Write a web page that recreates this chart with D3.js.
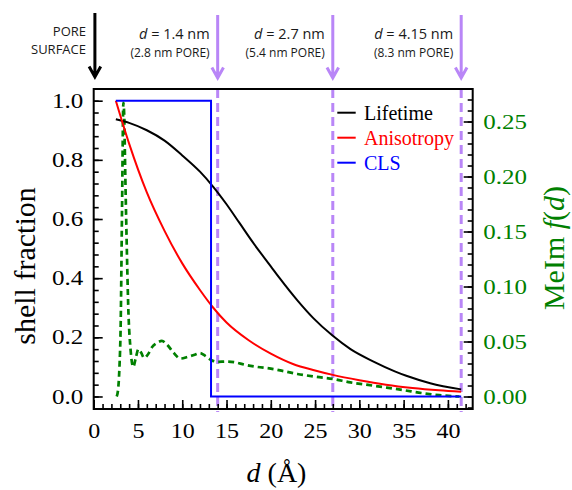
<!DOCTYPE html>
<html><head><meta charset="utf-8">
<script src="https://cdn.jsdelivr.net/npm/d3@7"></script>
<style>body{margin:0;background:#fff} svg{display:block}</style>
</head><body>
<svg id="chart" width="572" height="490"></svg>
<script>
// ---- data ----
const lifetimeD = [2.5,4,6,8,10,12,13.5,15,16.5,18,20,21,23,24.8,27,29,31.6,34,35.3,38,41.5];
const lifetimeV = [0.937,0.925,0.9,0.865,0.815,0.76,0.709,0.65,0.585,0.52,0.44,0.40,0.325,0.265,0.205,0.16,0.118,0.085,0.07,0.045,0.024];

const anisoD = [2.5,4,6,8,10,12,13.5,15,17.5,20,22.5,25,27,30,33,36,39,41.5];
const anisoV = [1.0,0.855,0.69,0.56,0.45,0.36,0.30,0.25,0.19,0.145,0.11,0.088,0.073,0.055,0.04,0.029,0.021,0.016];

const clsD = [2.5,13.25,13.25,41.5];
const clsV = [1,1,0,0];

const meimD = [2.6,2.75,2.9,3.05,3.2,3.35,3.45,3.53,3.72,3.9,4.17,4.47,4.75,5.05,5.35,5.7,6.1,6.6,7.2,7.7,8.3,9.0,9.8,10.6,11.4,12.0,12.6,13.3,14.0,15.0,16.0,17.0,18.4,20,21.5,23,25,27,29,31,33,35,37,39,41.3];
const meimV = [0.0,0.006,0.025,0.067,0.17,0.267,0.255,0.218,0.142,0.082,0.042,0.027,0.035,0.043,0.040,0.035,0.038,0.045,0.049,0.0505,0.047,0.040,0.0345,0.036,0.038,0.0395,0.037,0.033,0.0315,0.0318,0.031,0.029,0.027,0.0253,0.023,0.0205,0.018,0.016,0.0128,0.0105,0.0082,0.0058,0.0032,0.0012,0.0];

const xTicks = [0,5,10,15,20,25,30,35,40];
const yLTicks = [0,0.2,0.4,0.6,0.8,1.0];
const yRTicks = [0,0.05,0.10,0.15,0.20,0.25];

const poreD = [14,27,41.5];
const poreLabels = ["1.4 nm","2.7 nm","4.15 nm"];
const poreSub = ["(2.8 nm PORE)","(5.4 nm PORE)","(8.3 nm PORE)"];

const legendNames = ["Lifetime","Anisotropy","CLS"];
const legendColors = ["#000000","#ff0000","#0000ff"];

// ---- layout ----
const svg = d3.select("#chart");
const L=93.7, R=472.7, T=89, B=409;
const serif = "Liberation Serif, Times New Roman, serif";
const sans = "Open Sans, Noto Sans, sans-serif";
const green = "#008000";
const purple = "#b986f7";

const x = d3.scaleLinear().domain([0,42.8]).range([L,R]);
const yL = d3.scaleLinear().domain([-0.0423,1.0395]).range([B,T]);
const yR = d3.scaleLinear().domain([-0.01136,0.27955]).range([B,T]);

// purple dashed verticals
svg.selectAll("line.pore").data(poreD).join("line")
  .attr("x1",d=>x(d)).attr("x2",d=>x(d)).attr("y1",T).attr("y2",B+3)
  .attr("stroke",purple).attr("stroke-width",3).attr("stroke-dasharray","9,5");

// curves
const lineL = d3.line().x(d=>x(d[0])).y(d=>yL(d[1])).curve(d3.curveMonotoneX);
const lineR = d3.line().x(d=>x(d[0])).y(d=>yR(d[1])).curve(d3.curveMonotoneX);
const lineStep = d3.line().x(d=>x(d[0])).y(d=>yL(d[1]));

svg.append("path").datum(d3.zip(meimD,meimV)).attr("d",lineR)
  .attr("fill","none").attr("stroke",green).attr("stroke-width",2.7).attr("stroke-dasharray","6,4");
svg.append("path").datum(d3.zip(lifetimeD,lifetimeV)).attr("d",lineL)
  .attr("fill","none").attr("stroke","#000").attr("stroke-width",2);
svg.append("path").datum(d3.zip(anisoD,anisoV)).attr("d",lineL)
  .attr("fill","none").attr("stroke","#ff0000").attr("stroke-width",2);
svg.append("path").datum(d3.zip(clsD,clsV)).attr("d",lineStep)
  .attr("fill","none").attr("stroke","#0000ff").attr("stroke-width",2);

// axes
function styleAxis(g){ g.select(".domain").remove(); g.selectAll("line").attr("stroke","#000").attr("stroke-width",1.6); }

svg.append("g").attr("transform",`translate(0,${B})`)
  .call(d3.axisBottom(x).tickValues(d3.range(0,43)).tickSize(-5).tickFormat("")).call(styleAxis);
const gx = svg.append("g").attr("transform",`translate(0,${B})`)
  .call(d3.axisBottom(x).tickValues(xTicks).tickSize(-9).tickFormat(d3.format("d"))).call(styleAxis);
gx.selectAll("text").attr("y",29).attr("dy",null).attr("transform","scale(1.2,1)")
  .attr("font-family",serif).attr("font-size",20).attr("fill","#000");

svg.append("g").attr("transform",`translate(${L},0)`)
  .call(d3.axisLeft(yL).tickValues(d3.range(0,26).map(i=>i*0.04)).tickSize(-5).tickFormat("")).call(styleAxis);
const gyL = svg.append("g").attr("transform",`translate(${L},0)`)
  .call(d3.axisLeft(yL).tickValues(yLTicks).tickSize(-9).tickFormat(d3.format(".1f"))).call(styleAxis);
gyL.selectAll("text").attr("x",-8.3).attr("dy","6.6px").attr("transform","scale(1.25,1)")
  .attr("font-family",serif).attr("font-size",20).attr("fill","#000");

svg.append("g").attr("transform",`translate(${R},0)`)
  .call(d3.axisRight(yR).tickValues(d3.range(-1,28).map(i=>i/100)).tickSize(-5).tickFormat("")).call(styleAxis);
const gyR = svg.append("g").attr("transform",`translate(${R},0)`)
  .call(d3.axisRight(yR).tickValues(yRTicks).tickSize(-9).tickFormat(d3.format(".2f"))).call(styleAxis);
gyR.selectAll("text").attr("x",8.5).attr("dy","6.6px").attr("transform","scale(1.25,1)")
  .attr("font-family",serif).attr("font-size",20).attr("fill",green);

// frame
svg.append("rect").attr("x",L).attr("y",T).attr("width",R-L).attr("height",B-T)
  .attr("fill","none").attr("stroke","#000").attr("stroke-width",2);

// legend
const lg = svg.append("g");
legendNames.forEach((n,i)=>{
  const yy = 112.7 + i*25;
  lg.append("line").attr("x1",337.3).attr("x2",355.7).attr("y1",yy).attr("y2",yy)
    .attr("stroke",legendColors[i]).attr("stroke-width",2);
  lg.append("text").attr("x",364).attr("y",yy+7).text(n)
    .attr("font-family",serif).attr("font-size",20).attr("fill",legendColors[i]);
});

// axis titles
svg.append("text").attr("transform","translate(35,266) rotate(-90)")
  .attr("text-anchor","middle").attr("font-family",serif).attr("font-size",30).attr("fill","#000")
  .text("shell fraction");
const t2 = svg.append("text").attr("transform","translate(563.5,248) rotate(-90)")
  .attr("text-anchor","middle").attr("font-family",serif).attr("font-size",30).attr("fill",green);
[["MeIm ",false],["f",true],["(",false],["d",true],[")",false]].forEach(([s,it])=>{
  t2.append("tspan").attr("font-family",serif).attr("font-style",it?"italic":"normal").text(s);
});
const t3 = svg.append("text").attr("x",276.5).attr("y",482).attr("text-anchor","middle")
  .attr("font-family",serif).attr("font-size",28).attr("fill","#000");
t3.append("tspan").attr("font-family",serif).attr("font-style","italic").text("d");
t3.append("tspan").attr("font-family",serif).text(" (Å)");

// arrows
const arrow = (xx,y1,y2,col)=>{
  svg.append("path").attr("d",`M${xx},${y1}L${xx},${y2}M${xx-5.8},${y2-10.5}L${xx},${y2}L${xx+5.8},${y2-10.5}`)
    .attr("fill","none").attr("stroke",col).attr("stroke-width",3);
};
arrow(x(0)+1.2,13,77,"#000");
poreD.forEach(d=>arrow(x(d),15,78,purple));

// annotations
svg.append("text").attr("x",86).attr("y",36).attr("text-anchor","end")
  .attr("font-family",sans).attr("font-size",13).attr("fill","#1a1a1a").text("PORE");
svg.append("text").attr("x",86).attr("y",54).attr("text-anchor","end")
  .attr("font-family",sans).attr("font-size",13).attr("fill","#1a1a1a").text("SURFACE");
poreD.forEach((d,i)=>{
  const tx = svg.append("text").attr("x",x(d)-8).attr("y",39).attr("text-anchor","end")
    .attr("font-family",sans).attr("font-size",14.5).attr("fill","#1a1a1a");
  tx.append("tspan").attr("font-style","italic").text("d");
  tx.append("tspan").text(" = " + poreLabels[i]);
  svg.append("text").attr("x",x(d)-8).attr("y",57).attr("text-anchor","end")
    .attr("font-family",sans).attr("font-size",12).attr("fill","#1a1a1a").text(poreSub[i]);
});
</script>
</body></html>
